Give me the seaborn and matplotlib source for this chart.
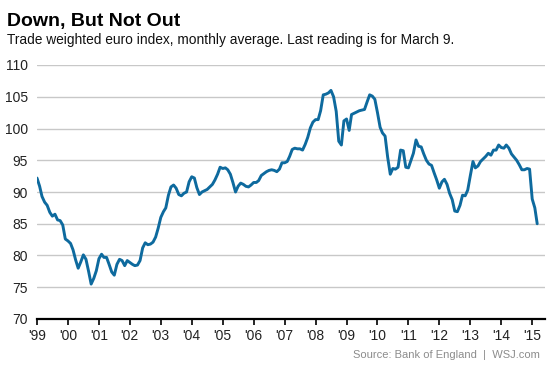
import pandas as pd
import matplotlib.pyplot as plt
import matplotlib.dates as mdates
import seaborn as sns

# Trade weighted euro index, monthly average, Jan 1999 - Mar 2015
start_month = "1999-01-01"
index_values = [
    92.2, 90.9, 89.3, 88.4, 87.9, 86.8, 86.2, 86.5, 85.6, 85.5, 84.8, 82.6,  # 1999
    82.3, 81.9, 80.9, 79.3, 78.0, 79.0, 80.1, 79.4, 77.5, 75.5, 76.4, 77.6,  # 2000
    79.5, 80.2, 79.7, 79.7, 78.6, 77.4, 76.9, 78.6, 79.4, 79.2, 78.4, 79.2,  # 2001
    78.9, 78.6, 78.4, 78.5, 79.2, 81.2, 82.0, 81.7, 81.8, 82.1, 82.9, 84.3,  # 2002
    86.0, 86.9, 87.5, 89.5, 90.8, 91.1, 90.6, 89.6, 89.4, 89.8, 90.0, 91.6,  # 2003
    92.4, 92.2, 90.7, 89.6, 90.0, 90.2, 90.4, 90.8, 91.2, 91.9, 92.8, 93.9,  # 2004
    93.7, 93.8, 93.5, 92.8, 91.5, 90.0, 90.9, 91.4, 91.2, 90.9, 90.8, 91.1,  # 2005
    91.5, 91.5, 91.8, 92.6, 92.9, 93.2, 93.4, 93.5, 93.4, 93.2, 93.6, 94.6,  # 2006
    94.6, 94.8, 95.6, 96.7, 96.9, 96.8, 96.8, 96.6, 97.5, 98.6, 100.1, 101.0,  # 2007
    101.4, 101.4, 102.8, 105.3, 105.4, 105.6, 106.0, 105.0, 102.7, 98.0, 97.4, 101.2,  # 2008
    101.5, 99.7, 102.2, 102.4, 102.6, 102.8, 102.9, 103.0, 104.2, 105.3, 105.1, 104.6,  # 2009
    102.5, 100.2, 99.3, 98.8, 95.5, 92.8, 93.7, 93.6, 93.9, 96.6, 96.5, 93.9,  # 2010
    93.8, 95.0, 96.1, 98.2, 97.2, 97.1, 96.0, 95.0, 94.4, 94.2, 93.0, 91.9,  # 2011
    90.6, 91.6, 92.0, 91.2, 89.8, 88.8, 87.0, 86.9, 87.9, 89.5, 89.4, 90.3,  # 2012
    92.6, 94.8, 93.8, 94.1, 94.8, 95.2, 95.6, 96.1, 95.8, 96.6, 96.6, 97.4,  # 2013
    97.0, 96.9, 97.4, 96.9, 96.0, 95.5, 95.0, 94.3, 93.5, 93.5, 93.7, 93.6,  # 2014
    88.9, 87.5, 85.0,  # 2015
]
y_ticks = [70, 75, 80, 85, 90, 95, 100, 105, 110]

df = pd.DataFrame({
    "month": pd.date_range(start_month, periods=len(index_values), freq="MS"),
    "index": index_values,
})

sns.set_theme(style="white")
plt.rcParams["font.family"] = ["Liberation Sans", "DejaVu Sans"]

fig = plt.figure(figsize=(5.53, 3.69), dpi=100)
ax = fig.add_axes([37 / 553, 1 - 319 / 369, 508 / 553, 254 / 369])

sns.lineplot(data=df, x="month", y="index", ax=ax, color="#0e6a9e", linewidth=2.1)

ax.set_ylim(70, 110)
ax.set_xlim(pd.Timestamp("1999-01-01"), pd.Timestamp("2015-06-01"))
ax.set_yticks(y_ticks)
ax.yaxis.grid(True, color="#c8c8c8", linewidth=1)
ax.set_axisbelow(True)
ax.tick_params(axis="y", length=0, pad=6.5, labelsize=10, labelcolor="#222222")

ax.xaxis.set_major_locator(mdates.YearLocator())
ax.xaxis.set_major_formatter(mdates.DateFormatter("'%y"))
ax.tick_params(axis="x", length=4, width=1.2, color="black", direction="out",
               pad=3.5, labelsize=10, labelcolor="#222222")
ax.xaxis.set_ticks_position("bottom")

for side in ["top", "right", "left"]:
    ax.spines[side].set_visible(False)
ax.spines["bottom"].set_color("black")
ax.spines["bottom"].set_linewidth(1.6)
ax.set_xlabel("")
ax.set_ylabel("")

fig.text(7 / 553, 1 - 26 / 369, "Down, But Not Out", fontsize=14, fontweight="bold",
         color="black", va="baseline")
fig.text(7 / 553, 1 - 44 / 369,
         "Trade weighted euro index, monthly average. Last reading is for March 9.",
         fontsize=9.9, color="#111111", va="baseline")
fig.text(540 / 553, 1 - 358 / 369, "Source: Bank of England  |  WSJ.com",
         fontsize=8, color="#8c8c8c", ha="right", va="baseline")

fig.savefig("out.png", dpi=100)
